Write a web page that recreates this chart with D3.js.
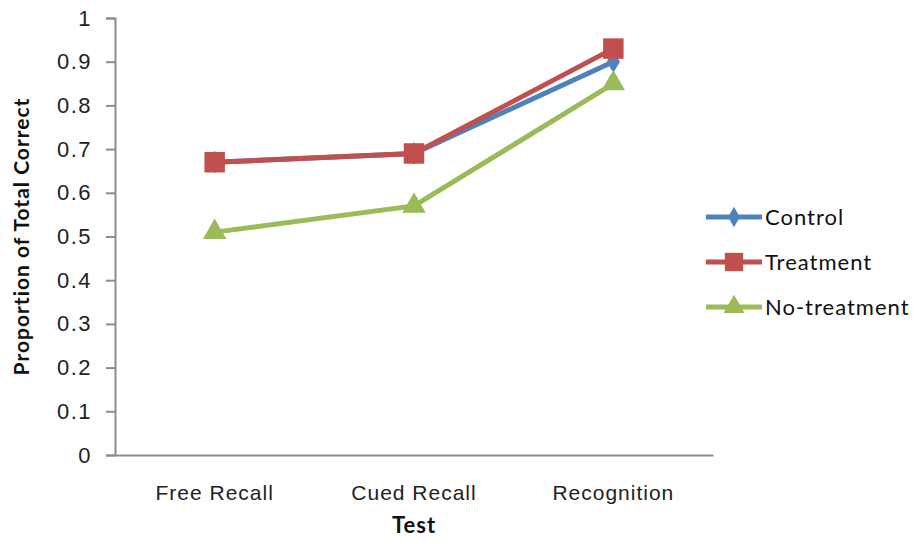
<!DOCTYPE html>
<html>
<head>
<meta charset="utf-8">
<script src="https://cdn.jsdelivr.net/npm/d3@7"></script>
<style>
  body { margin: 0; background: #fff; }
  svg { display: block; font-family: Lato, "Open Sans", sans-serif; }
</style>
</head>
<body>
<svg id="chart" width="920" height="544"></svg>
<script>
// Test categories and the proportion correct for each group
const tests = ["Free Recall", "Cued Recall", "Recognition"];
const control = [0.67, 0.69, 0.90];
const treatment = [0.67, 0.69, 0.93];
const noTreatment = [0.51, 0.57, 0.85];
const yTicks = [0, 0.1, 0.2, 0.3, 0.4, 0.5, 0.6, 0.7, 0.8, 0.9, 1];
const seriesNames = ["Control", "Treatment", "No-treatment"];

const series = [
  { name: seriesNames[0], values: control, color: "#4F81BD", symbol: d3.symbolDiamond, size: 150 },
  { name: seriesNames[1], values: treatment, color: "#C0504D", symbol: d3.symbolSquare, size: 420 },
  { name: seriesNames[2], values: noTreatment, color: "#9BBB59", symbol: d3.symbolTriangle, size: 240 }
];

const svg = d3.select("#chart");
const plotLeft = 115, plotRight = 713, plotTop = 18, plotBottom = 455;

const x = d3.scaleBand().domain(tests).range([plotLeft, plotRight]);
const y = d3.scaleLinear().domain([0, 1]).range([plotBottom, plotTop]);

// y axis
const yAxis = svg.append("g")
  .attr("transform", `translate(${plotLeft},0)`)
  .call(d3.axisLeft(y).tickValues(yTicks).tickFormat(d => d === 0 || d === 1 ? d3.format("d")(d) : d3.format(".1f")(d)).tickSize(9).tickPadding(14));
yAxis.select(".domain").attr("stroke", "#8c8c8c").attr("stroke-width", 2);
yAxis.selectAll(".tick line").attr("stroke", "#8c8c8c").attr("stroke-width", 2);
yAxis.selectAll(".tick text").attr("fill", "#222")
  .style("font-size", "22px").style("letter-spacing", "1.5px");

// x axis
const xAxis = svg.append("g")
  .attr("transform", `translate(0,${plotBottom})`)
  .call(d3.axisBottom(x).tickSize(0).tickPadding(30));
xAxis.select(".domain").attr("stroke", "#8c8c8c").attr("stroke-width", 2);
xAxis.selectAll(".tick text").attr("fill", "#222")
  .style("font-size", "21px").style("letter-spacing", "1px");

// axis titles
svg.append("text")
  .attr("x", (plotLeft + plotRight) / 2)
  .attr("y", 533)
  .attr("text-anchor", "middle")
  .style("font-size", "22px").style("font-weight", "bold").style("letter-spacing", "1px").attr("fill", "#111")
  .text("Test");
svg.append("text")
  .attr("transform", `translate(29,${(plotTop + plotBottom) / 2}) rotate(-90)`)
  .attr("text-anchor", "middle")
  .style("font-size", "21px").style("font-weight", "bold").style("letter-spacing", "1px").attr("fill", "#111")
  .text("Proportion of Total Correct");

const cx = d => x(d) + x.bandwidth() / 2;
const line = d3.line().x((v, i) => cx(tests[i])).y(v => y(v));

// lines and markers
series.forEach(s => {
  const g = svg.append("g");
  g.append("path")
    .attr("d", line(s.values))
    .attr("fill", "none")
    .attr("stroke", s.color)
    .attr("stroke-width", 5);
  g.selectAll("path.m")
    .data(s.values)
    .join("path")
    .attr("class", "m")
    .attr("d", d3.symbol().type(s.symbol).size(s.size))
    .attr("transform", (v, i) => `translate(${cx(tests[i])},${y(v)})`)
    .attr("fill", s.color);
});

// legend
const legend = svg.append("g");
series.forEach((s, i) => {
  const ly = 217 + i * 45;
  legend.append("line")
    .attr("x1", 706).attr("x2", 762).attr("y1", ly).attr("y2", ly)
    .attr("stroke", s.color).attr("stroke-width", 5);
  legend.append("path")
    .attr("d", d3.symbol().type(s.symbol).size(s.size * 0.8))
    .attr("transform", `translate(734,${ly})`)
    .attr("fill", s.color);
  legend.append("text")
    .attr("x", 765).attr("y", ly)
    .attr("dy", "0.35em")
    .style("font-size", "22px").style("letter-spacing", "1px").attr("fill", "#111")
    .text(s.name);
});
</script>
</body>
</html>
